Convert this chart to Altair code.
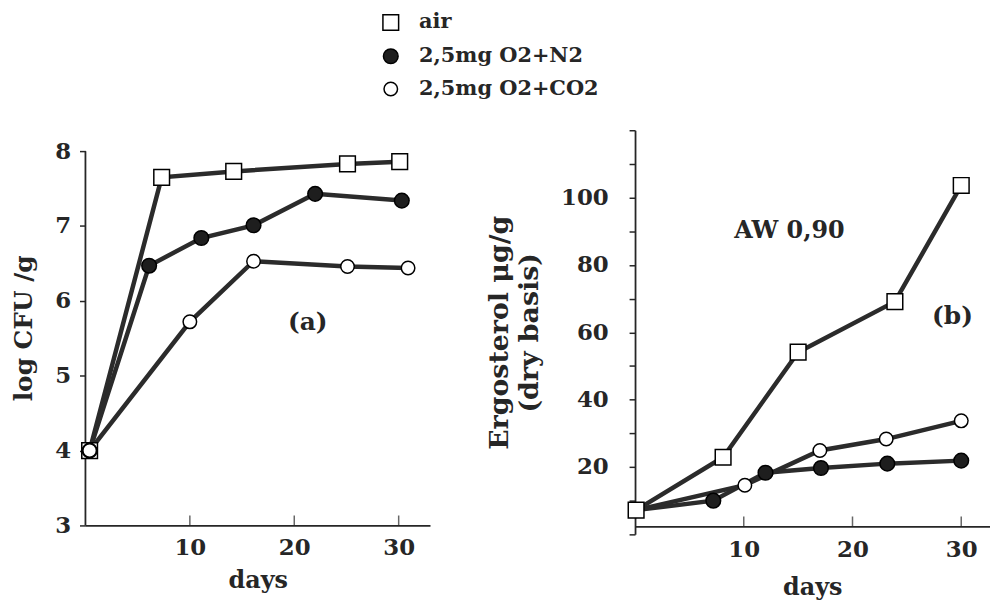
import altair as alt
import pandas as pd

FONT = "DejaVu Serif"
INK = "#262626"

series = ["air", "2,5mg O2+N2", "2,5mg O2+CO2"]

# ---- panel (a): log CFU/g ----
a_air_day = [0.4, 7.3, 14.2, 25.1, 30.1]
a_air_val = [4.0, 7.65, 7.73, 7.83, 7.86]
a_n2_day = [0.4, 6.1, 11.1, 16.1, 22.0, 30.3]
a_n2_val = [4.0, 6.47, 6.84, 7.01, 7.43, 7.34]
a_co2_day = [0.4, 10.0, 16.1, 25.1, 30.9]
a_co2_val = [4.0, 5.72, 6.53, 6.46, 6.44]

# ---- panel (b): ergosterol ----
b_air_day = [0.1, 8.1, 15.0, 23.9, 30.0]
b_air_val = [7.2, 22.9, 54.1, 69.1, 103.6]
b_n2_day = [0.1, 7.2, 12.0, 17.1, 23.2, 30.0]
b_n2_val = [7.2, 10.0, 18.3, 19.7, 21.0, 21.9]
b_co2_day = [0.1, 10.1, 17.0, 23.1, 30.0]
b_co2_val = [7.2, 14.6, 24.9, 28.3, 33.7]

a_yticks = [3, 4, 5, 6, 7, 8]
b_yticks = list(range(0, 121, 10))
x_ticks = [10, 20, 30]


def frame(parts):
    rows = []
    for name, days, vals in parts:
        for d, v in zip(days, vals):
            rows.append({"series": name, "day": d, "value": v})
    return pd.DataFrame(rows)


df_a = frame([(series[0], a_air_day, a_air_val),
              (series[1], a_n2_day, a_n2_val),
              (series[2], a_co2_day, a_co2_val)])
df_b = frame([(series[1], b_n2_day, b_n2_val),
              (series[2], b_co2_day, b_co2_val),
              (series[0], b_air_day, b_air_val)])

leg = alt.Legend(title=None, orient="none", legendX=297, legendY=-119,
                 direction="vertical", labelFont=FONT, labelFontSize=21,
                 labelFontWeight="bold", labelColor=INK, rowPadding=11,
                 labelOffset=18, labelLimit=400, symbolStrokeWidth=1.5)

shape = alt.Shape("series:N", scale=alt.Scale(domain=series, range=["square", "circle", "circle"]), legend=leg)
fill = alt.Fill("series:N", scale=alt.Scale(domain=series, range=["white", "#1e1e1e", "white"]), legend=leg)
stroke = alt.Stroke("series:N", scale=alt.Scale(domain=series, range=["black", "black", "black"]), legend=leg)
size = alt.Size("series:N", scale=alt.Scale(domain=series, range=[250, 185, 185]), legend=leg)

axis_common = dict(labelFont=FONT, labelFontSize=23, labelFontWeight="bold", labelColor=INK,
                   titleFont=FONT, titleFontWeight="bold", titleColor=INK,
                   domainColor=INK, domainWidth=1.8, tickColor=INK, tickWidth=1.5, grid=False)


def panel(df, xdom, ydom, yvals, ylabelexpr, ytitle, xoffset, ybottom, ylinelo, ylinehi,
          anns, w, h, ytitle_pad, xtitle_pad, ydomain_line, ylabel_pad, xlabel_pad, ytitle_size):
    x = alt.X("day:Q", scale=alt.Scale(domain=xdom, nice=False, zero=False),
              axis=alt.Axis(values=x_ticks, ticks=False, tickSize=0, title="days", offset=xoffset,
                            labelPadding=xlabel_pad, titlePadding=xtitle_pad, titleFontSize=24,
                            **axis_common))
    y = alt.Y("value:Q", scale=alt.Scale(domain=ydom, nice=False, zero=False),
              axis=alt.Axis(values=yvals, labelExpr=ylabelexpr, tickSize=6, labelPadding=ylabel_pad,
                            title=ytitle, titlePadding=ytitle_pad, domain=ydomain_line,
                            titleFontSize=ytitle_size, titleLineHeight=ytitle_size + 3,
                            **axis_common))
    base = alt.Chart(df)
    lines = base.mark_line(color="#2b2b2b", strokeWidth=4.5).encode(x=x, y=y, detail="series:N")
    pts = base.mark_point(filled=True, strokeWidth=1.5, opacity=1).encode(
        x=x, y=y, shape=shape, fill=fill, stroke=stroke, size=size)
    tdf = pd.DataFrame({"day": x_ticks, "value": [ybottom] * len(x_ticks)})
    ticks = alt.Chart(tdf).mark_tick(orient="vertical", size=10, thickness=1.5, color=INK,
                                     yOffset=-5 + xoffset).encode(x=x, y=y)
    layers = [lines, ticks]
    if not ydomain_line:
        rdf = pd.DataFrame({"day": [xdom[0]], "value": [ylinelo], "value2": [ylinehi]})
        layers.append(alt.Chart(rdf).mark_rule(color=INK, strokeWidth=1.8).encode(
            x=x, y=y, y2="value2:Q"))
    for text, d, v, fs in anns:
        adf = pd.DataFrame({"t": [text], "day": [d], "value": [v]})
        layers.append(alt.Chart(adf).mark_text(font=FONT, fontWeight="bold", color=INK,
                                               fontSize=fs).encode(x=x, y=y, text="t:N"))
    layers.append(pts)
    return alt.layer(*layers).properties(width=w, height=h)


pa = panel(df_a, [0, 33], [3, 8.28], a_yticks, "datum.label", "log CFU /g", 0, 3, 3, 8,
           [("(a)", 21.3, 5.72, 25)], 347, 398, 18, 10, False, 9, 11, 25)
pb = panel(df_b, [0, 32.6], [0, 120], b_yticks,
           "(datum.value % 20 == 0 && datum.value > 0 && datum.value < 120) ? datum.label : ''",
           ["Ergosterol \u03bcg/g", "(dry basis)"], -8, 0, 0, 120,
           [("AW 0,90", 14.2, 90.2, 24), ("(b)", 29.2, 64.7, 25)], 357, 407, 17, 15, True, 21, 12, 27)

chart = alt.hconcat(pa, pb, spacing=55.5).properties(
    padding={"left": 3, "top": 2, "right": 0, "bottom": 0}, background="white"
).configure_view(stroke="transparent", strokeWidth=0)

chart.save("out.html", embed_options={"renderer": "svg", "actions": False})
